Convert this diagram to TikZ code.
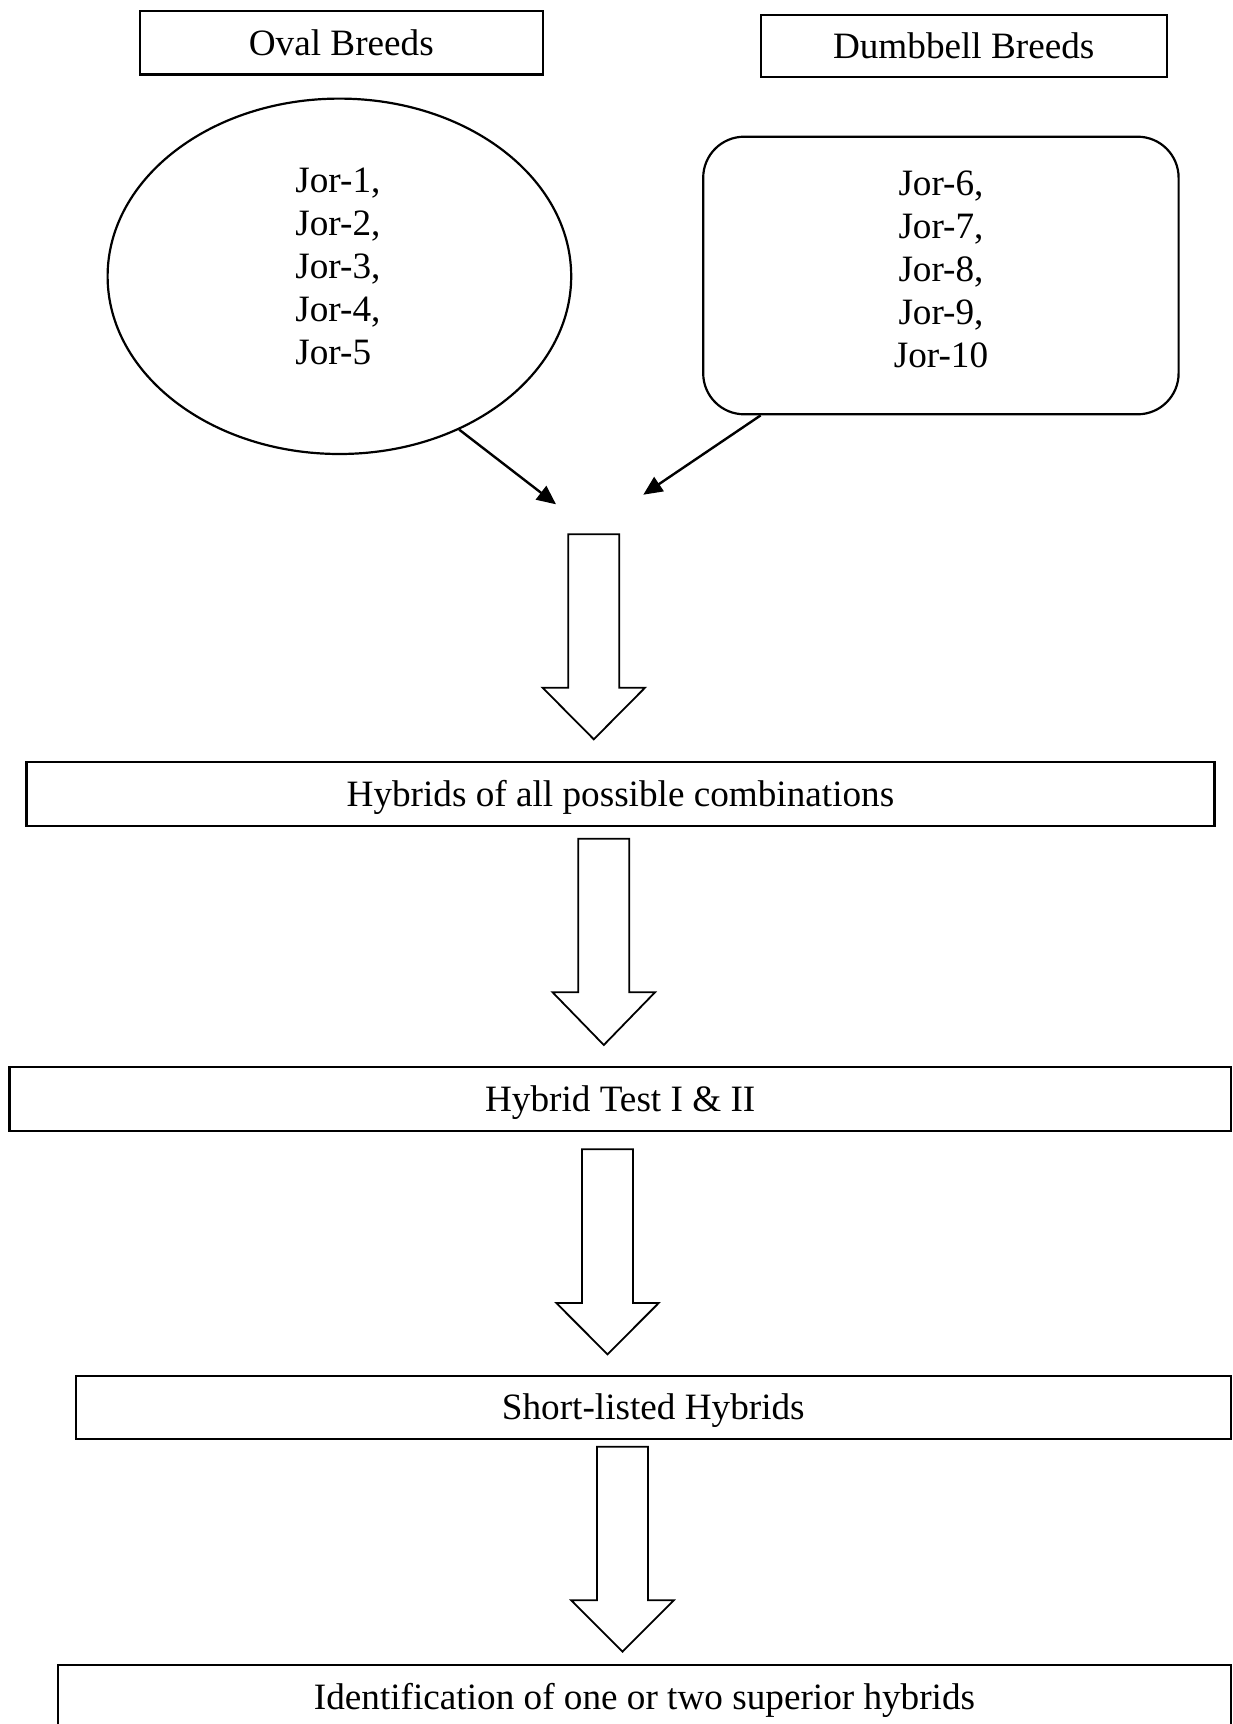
\documentclass[tikz,border=0pt]{standalone}
\usepackage{fontspec}
\setmainfont{Liberation Serif}
\usetikzlibrary{shapes.geometric,arrows.meta}
\newcommand\hollowdown[4]{% cx, top, head base, tip
  \draw[hollowarrow] ({#1-25.5},#2) -- ({#1+25.5},#2) -- ({#1+25.5},#3) -- ({#1+51.2},#3)
    -- (#1,#4) -- ({#1-51.2},#3) -- ({#1-25.5},#3) -- cycle;}
\begin{document}
\begin{tikzpicture}[x=0.5pt,y=-0.5pt,
  every node/.style={font=\fontsize{18.6pt}{21.5pt}\selectfont},
  boxnode/.style={draw,line width=1.1pt,inner sep=0pt,text height=12.3pt,text depth=0pt},
  textblock/.style={inner sep=0pt},
  smallarrow/.style={line width=1.2pt,-{Triangle[length=9.5pt,width=8.5pt]}},
  hollowarrow/.style={line width=0.9pt,line join=miter}]
\useasboundingbox (0,0) rectangle (1232,1724);
\clip (0,0) rectangle (1232,1724);

% headers
\node[boxnode,minimum width=201.65pt,minimum height=31.75pt] (ovalhead) at (341.3,42.8) {Oval Breeds};
\node[boxnode,minimum width=203.1pt,minimum height=31pt] (dumbhead) at (963.7,46.3) {Dumbbell Breeds};

% breed groups
\node[draw,ellipse,line width=1.1pt,inner sep=0pt,minimum width=231.8pt,minimum height=177.7pt] (oval) at (339.4,276.3) {};
\node[textblock,align=left,anchor=north west] (ovaltext) at (295,168) {Jor-1,\\Jor-2,\\Jor-3,\\Jor-4,\\Jor-5};

\node[draw,rectangle,rounded corners=20.5pt,line width=1.1pt,inner sep=0pt,minimum width=237.7pt,minimum height=138.8pt] (dumb) at (940.9,275.5) {};
\node[textblock,align=center,anchor=north] (dumbtext) at (941,170.5) {Jor-6,\\Jor-7,\\Jor-8,\\Jor-9,\\Jor-10};

% converging arrows
\coordinate (tipL) at (556,504.3);
\coordinate (tipR) at (643.3,494.7);
\draw[smallarrow] (oval.-52) -- (tipL);
\draw[smallarrow] ([xshift=29.25pt]dumb.south west) -- (tipR);

% stages
\node[boxnode,minimum width=594pt,minimum height=32.15pt] (hyb) at (620.45,793.85) {Hybrids of all possible combinations};
\node[boxnode,minimum width=610.8pt,minimum height=32pt] (test) at (620.2,1098.75) {Hybrid Test I \& II};
\node[boxnode,minimum width=577.7pt,minimum height=31.5pt] (short) at (653.3,1407.5) {Short-listed Hybrids};
\node[boxnode,minimum width=586.5pt,minimum height=32pt] (ident) at (644.5,1697) {Identification of one or two superior hybrids};

% hollow arrows
\hollowdown{593.8}{534.3}{687.7}{739.3}
\hollowdown{603.8}{838.7}{992.3}{1045}
\hollowdown{607.5}{1149.3}{1303}{1354.3}
\hollowdown{622.5}{1446.7}{1600.3}{1651.7}
\end{tikzpicture}
\end{document}
